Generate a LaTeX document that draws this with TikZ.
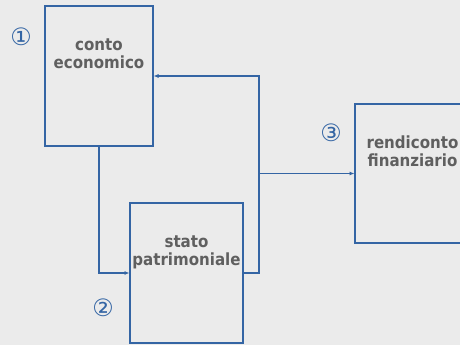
\documentclass[tikz,border=0pt]{standalone}
\usepackage{fontspec}
\setmainfont{DejaVu Sans Condensed}
\newfontfamily\numfont{DejaVu Sans}
\usetikzlibrary{arrows.meta,positioning}
\definecolor{linkblue}{RGB}{52,101,164}
\definecolor{labelgray}{RGB}{95,95,95}
\definecolor{bggray}{RGB}{235,235,235}
\begin{document}
\begin{tikzpicture}[x=0.025cm,y=-0.025cm,
    box/.style={draw=linkblue,line width=0.8pt,inner sep=0pt},
    title/.style={font=\bfseries\fontsize{11.9}{12.6}\selectfont,text=labelgray,align=center,inner sep=0pt},
    num/.style={font=\numfont\fontsize{17}{17}\selectfont,text=linkblue,inner sep=0pt},
    link/.style={draw=linkblue,line width=0.8pt,-{Latex[length=3.5pt,width=3pt]}}]
    % Background
    \fill[bggray] (0,0) rectangle (460,345);
    \useasboundingbox (0,0) rectangle (460,345);
    % Draw the statements
    \node[box,minimum width=2.7cm,minimum height=3.5cm] (ce) at (99,76) {};
    \node[box,minimum width=2.825cm,minimum height=3.5cm] (sp) at (186.5,273) {};
    \node[box,minimum width=2.875cm,minimum height=3.475cm] (rf) at (412.5,173.5) {};
    % Titles
    \node[title,anchor=north,below=0.83cm of ce.north] (ce-t) {conto\\economico};
    \node[title,anchor=north,below=0.83cm of sp.north] (sp-t) {stato\\patrimoniale};
    \node[title,anchor=north,below=0.8cm of rf.north] (rf-t) {rendiconto\\finanziario};
    % Numbers
    \node[num] (n1) at (21,37) {①};
    \node[num] (n2) at (103,308) {②};
    \node[num] (n3) at (331,133) {③};
    % Draw the links
    \coordinate (bend) at (259,273);
    \draw[link] (ce.south) |- (sp.west);
    \draw[link] (sp.east) -- (bend) |- (ce.east);
    \draw[link] (bend |- rf.west) -- (rf.west);
\end{tikzpicture}
\end{document}
